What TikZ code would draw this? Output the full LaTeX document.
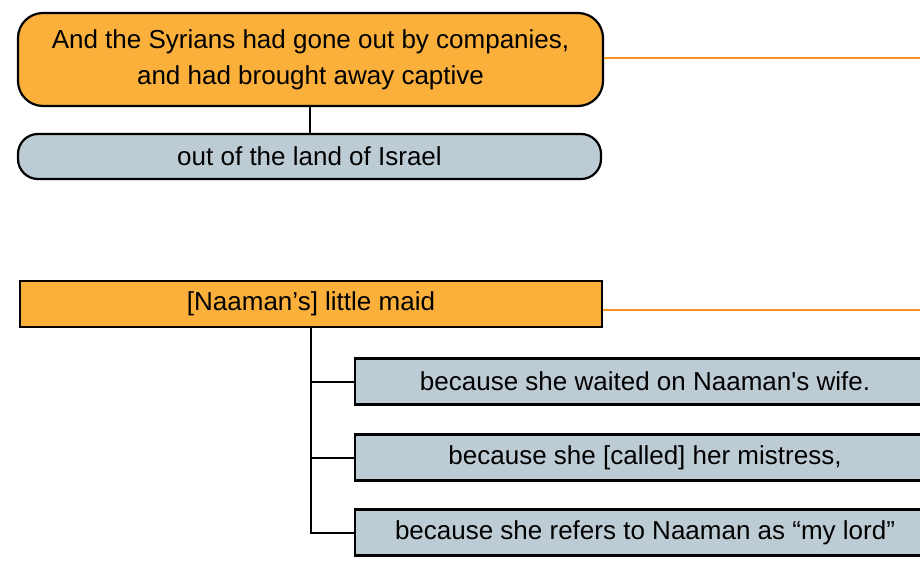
\documentclass[tikz,border=0pt]{standalone}
\usepackage{fontspec}
\setmainfont{Liberation Sans}
\usepackage{tikz}
\usetikzlibrary{positioning}
\definecolor{boxorange}{HTML}{FBB03B}
\definecolor{lineorange}{HTML}{F7941D}
\definecolor{boxgrey}{HTML}{BDCCD4}

\begin{document}
\begin{tikzpicture}
	[x=1pt,y={(0,-1pt)},
	head/.style={draw=black,fill=boxorange,line width=2.2pt,
		inner sep=0pt,minimum width=585pt,minimum height=93pt,
		rounded corners=25pt,align=center},
	headbox/.style={draw=black,fill=boxorange,line width=2.2pt,
		inner sep=0pt,minimum width=582pt,minimum height=46pt},
	item/.style={draw=black,fill=boxgrey,line width=2.2pt,
		inner sep=0pt,minimum width=583pt,minimum height=45pt,
		rounded corners=20pt},
	itembox/.style={draw=black,fill=boxgrey,line width=2.2pt,
		inner sep=0pt,minimum width=580pt,minimum height=46pt},
	link/.style={black,line width=2pt},
	orangelink/.style={lineorange,line width=2.2pt},
	font=\fontsize{26}{36}\selectfont]
	\useasboundingbox (0,0) rectangle (920,564);
	\clip (0,0) rectangle (920,564);
	%  primer bloque
	\node[head] (syrians) at (310.5,59.5)
		{And the Syrians had gone out by companies,\\and had brought away captive};
	\node[item] (land) at (309.5,156.5) {out of the land of Israel};
	\draw[link] (land.north) -- (land.north |- syrians.south);
	\coordinate (e1) at (920,58);
	\draw[orangelink] (syrians.east |- e1) -- (e1);
	%  segundo bloque
	\node[headbox] (maid) at (311,304) {[Naaman’s] little maid};
	\coordinate (e2) at (920,310);
	\draw[orangelink] (maid.east |- e2) -- (e2);
	\node[itembox] (wife) at (645,381.5) {because she waited on Naaman\textquotesingle s wife.};
	\node[itembox] (mistress) at (645,457.5) {because she [called] her mistress,};
	\node[itembox] (lord) at (645,532.5) {because she refers to Naaman as “my lord”};
	\draw[link] (maid.south) |- (lord.west);
	\draw[link] (maid.south |- wife.west) -- (wife.west);
	\draw[link] (maid.south |- mistress.west) -- (mistress.west);
\end{tikzpicture}
\end{document}
